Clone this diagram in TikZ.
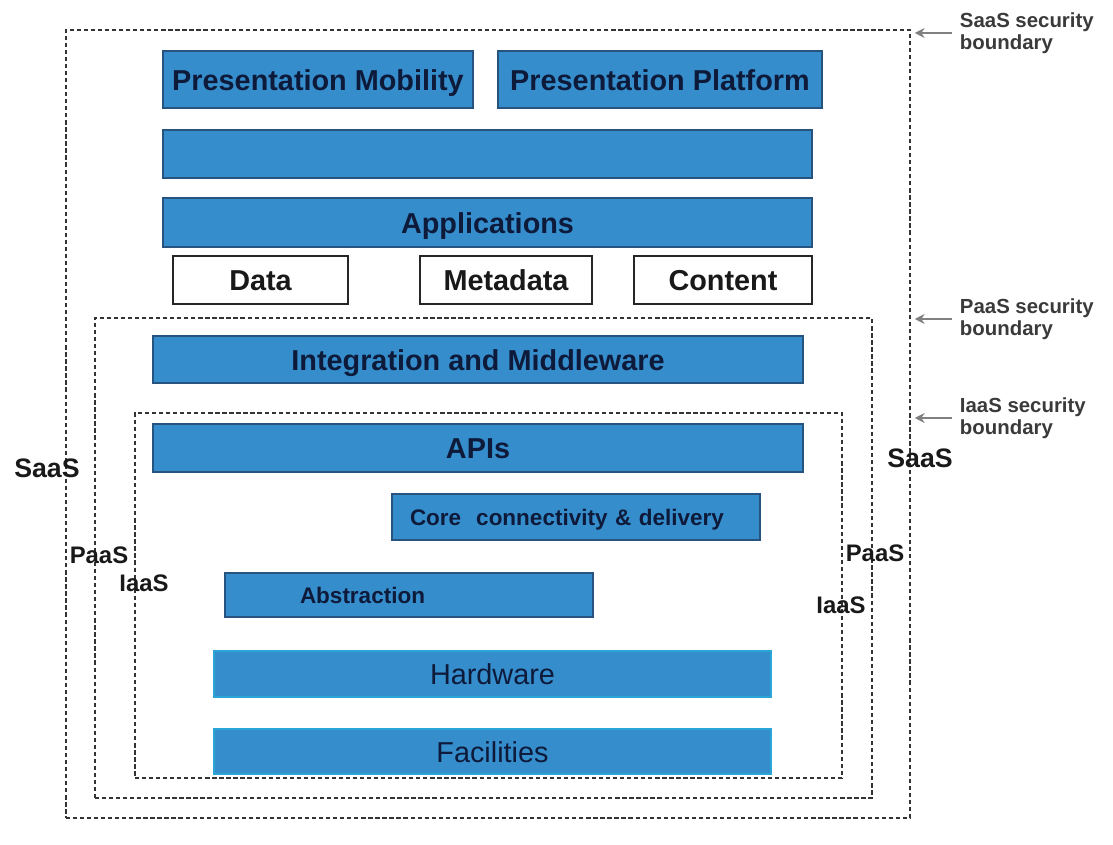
\documentclass[tikz,border=0pt]{standalone}
\usepackage{fontspec}
\setmainfont{Liberation Sans}
\usetikzlibrary{arrows.meta}
\definecolor{layerblue}{RGB}{54,141,204}
\definecolor{layeredge}{RGB}{38,84,126}
\definecolor{layertext}{RGB}{14,26,58}
\definecolor{notegray}{RGB}{58,58,58}
\definecolor{arrowgray}{RGB}{128,128,128}
\tikzset{
  layer/.style={draw=layeredge,fill=layerblue,line width=0.8pt,inner sep=0pt,text height=15pt,text depth=0pt,text=layertext,font=\fontsize{20.5}{24}\selectfont\bfseries},
  hwlayer/.style={layer,draw=layerblue!80!cyan,font=\fontsize{20.5}{24}\selectfont},
  smlayer/.style={layer,text height=11.5pt,font=\fontsize{16}{19}\selectfont\bfseries},
  store/.style={draw=black!85,fill=white,line width=1pt,inner sep=0pt,text height=15pt,text depth=0pt,text=black!90,font=\fontsize{20.5}{24}\selectfont\bfseries},
  bound/.style={draw=black!80,dash pattern=on 3pt off 2pt,line width=0.75pt,inner sep=0pt},
  side/.style={inner sep=0pt,text=black!90,font=\bfseries},
  note/.style={anchor=west,align=left,text=notegray,font=\fontsize{14.5}{16}\selectfont\bfseries},
  notearrow/.style={draw=arrowgray,line width=1.6pt,-{Stealth[length=7pt,width=7pt]},shorten <=2pt,shorten >=3pt}
}
\begin{document}
\begin{tikzpicture}[x=0.025cm,y=-0.025cm]
\def\kpx{0.025cm}
\useasboundingbox(0,0)rectangle(1113,845);
\foreach \bn/\xa/\ya/\xb/\yb in {saasb/66/30/910/818,paasb/95/318/872/798,iaasb/135/413/842/778}{\node[bound,minimum width={(\xb-\xa)*\kpx},minimum height={(\yb-\ya)*\kpx}](\bn) at ({(\xa+\xb)/2},{(\ya+\yb)/2}){};}
\foreach \bn/\xa/\ya/\xb/\yb/\bl in {pmob/163/51/473/108/{Presentation Mobility},pplat/498/51/822/108/{Presentation Platform},blank/163/130/812/178/{},apps/163/198/812/247/Applications,integ/153/336/803/383/{Integration and Middleware},apis/153/424/803/472/APIs}{\node[layer,minimum width={(\xb-\xa)*\kpx},minimum height={(\yb-\ya)*\kpx}](\bn) at ({(\xa+\xb)/2},{(\ya+\yb)/2}){\bl};}
\foreach \bn/\xa/\ya/\xb/\yb/\bl in {data/173/256/348/304/Data,meta/420/256/592/304/Metadata,cont/634/256/812/304/Content}{\node[store,minimum width={(\xb-\xa)*\kpx},minimum height={(\yb-\ya)*\kpx}](\bn) at ({(\xa+\xb)/2},{(\ya+\yb)/2}){\bl};}
\node[smlayer,inner xsep={18*\kpx},text width={332*\kpx},align=left,minimum height={46*\kpx}](core) at (576,517){Core\ \ connectivity \& delivery};
\node[smlayer,inner xsep={75*\kpx},text width={218*\kpx},align=left,minimum height={44*\kpx}](abst) at (409,595){Abstraction};
\foreach \bn/\ya/\yb/\bl in {hard/651/697/Hardware,fac/729/774/Facilities}{\node[hwlayer,minimum width={557*\kpx},minimum height={(\yb-\ya)*\kpx}](\bn) at (492.5,{(\ya+\yb)/2}){\bl};}
\node[side,font=\fontsize{19}{22}\selectfont\bfseries](saasl) at (47,468){SaaS};
\node[side,font=\fontsize{19}{22}\selectfont\bfseries](saasr) at (920,458){SaaS};
\node[side,font=\fontsize{17}{20}\selectfont\bfseries](paasl) at (99,555){PaaS};
\node[side,font=\fontsize{17}{20}\selectfont\bfseries](iaasl) at (144,583){IaaS};
\node[side,font=\fontsize{17}{20}\selectfont\bfseries](paasr) at (875,553){PaaS};
\node[side,font=\fontsize{17}{20}\selectfont\bfseries](iaasr) at (841,605){IaaS};
\foreach \nn/\bn/\kt/\ny in {saasn/saasb/SaaS/33,paasn/paasb/PaaS/319,iaasn/iaasb/IaaS/418}{
\node[note](\nn) at (955,\ny){\kt\ security\\boundary};
\draw[notearrow](\nn.west)--(\nn.west-|saasb.east);}
\end{tikzpicture}
\end{document}
